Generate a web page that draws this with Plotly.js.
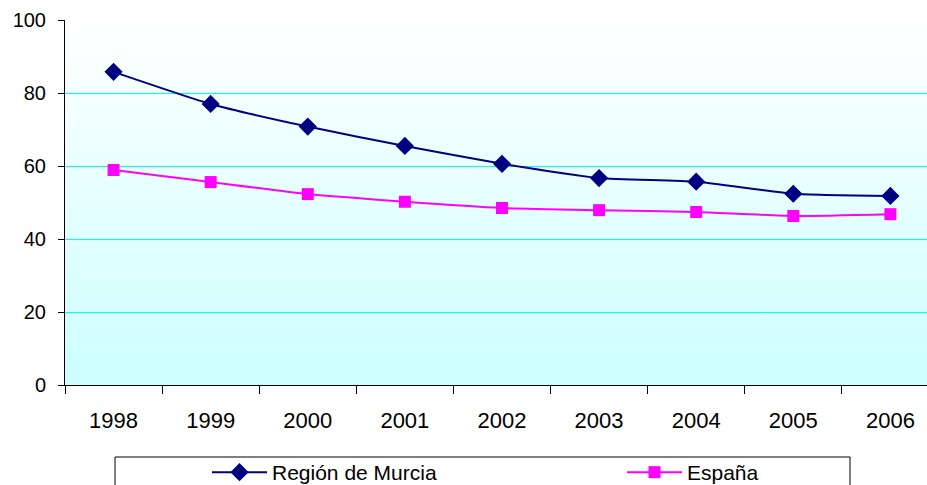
<!DOCTYPE html>
<html><head><meta charset="utf-8">
<script src="https://cdn.plot.ly/plotly-3.0.1.min.js"></script>
<style>html,body{margin:0;padding:0;background:#fff}#c{width:927px;height:485px}</style>
</head><body><div id="c"></div>
<script>
const years = ["1998","1999","2000","2001","2002","2003","2004","2005","2006"];
const murcia = [85.8, 77.0, 70.8, 65.5, 60.6, 56.7, 55.7, 52.4, 51.8];
const espana = [58.9, 55.6, 52.3, 50.2, 48.5, 47.9, 47.4, 46.3, 46.8];
const yTicks = [0, 20, 40, 60, 80, 100];

const idx = years.map((_, i) => i);
const bounds = years.concat(["x"]).map((_, i) => i - 0.5);
const fam = "Liberation Sans, Arial, sans-serif";
const xfont = {family: fam, size: 22, color: "#000"};
const yfont = {family: fam, size: 20, color: "#000"};
const lfont = {family: fam, size: 21, color: "#000"};

const grad = 'data:image/svg+xml;utf8,' + encodeURIComponent(
  '<svg xmlns="http://www.w3.org/2000/svg" width="100" height="100" preserveAspectRatio="none">' +
  '<defs><linearGradient id="g" x1="0" y1="0" x2="0" y2="1"><stop offset="0" stop-color="#ffffff"/><stop offset="1" stop-color="#ccffff"/></linearGradient></defs>' +
  '<rect width="100" height="100" fill="url(#g)"/></svg>');

const traces = [
  {x: idx, y: murcia, name: "Región de Murcia", type: "scatter", mode: "lines+markers",
   line: {color: "#000080", width: 2, shape: "spline", smoothing: 0.5},
   marker: {symbol: "diamond", size: 14, color: "#000080"}, legend: "legend"},
  {x: idx, y: espana, name: "España", type: "scatter", mode: "lines+markers",
   line: {color: "#ff00ff", width: 2, shape: "spline", smoothing: 0.5},
   marker: {symbol: "square", size: 12, color: "#ff00ff"}, legend: "legend2"},
  {x: [0], y: [null], xaxis: "x2", showlegend: false, hoverinfo: "skip", mode: "markers"}
];

const xr = [-0.5, 8.377];
const legY = (485 - 452) / 485;
const layout = {
  width: 927, height: 485,
  margin: {l: 65, r: 0, t: 20, b: 100},
  paper_bgcolor: "#fff", plot_bgcolor: "rgba(0,0,0,0)",
  font: xfont,
  showlegend: true,
  xaxis: {range: xr, tickvals: idx, ticktext: years, ticks: "outside", ticklen: 16,
          tickcolor: "rgba(0,0,0,0)", showgrid: false, zeroline: false,
          showline: true, linecolor: "#000", linewidth: 1, tickfont: xfont, fixedrange: true},
  xaxis2: {range: xr, overlaying: "x", anchor: "y", side: "bottom", tickvals: bounds,
           ticks: "outside", ticklen: 8, tickcolor: "#000", showticklabels: false,
           showgrid: false, zeroline: false, showline: false},
  yaxis: {range: [0, 100], tickvals: yTicks, ticks: "outside", ticklen: 6, tickcolor: "#000",
          ticklabelstandoff: 8,
          showgrid: true, gridcolor: "#00ffff", gridwidth: 1, zeroline: false,
          showline: true, linecolor: "#000", linewidth: 1, tickfont: yfont},
  images: [{source: grad, xref: "paper", yref: "paper", x: 0, y: 1, sizex: 1, sizey: 1,
            sizing: "stretch", layer: "below", xanchor: "left", yanchor: "top"}],
  shapes: [{type: "rect", xref: "paper", yref: "paper", x0: (115-65)/862, x1: (850-65)/862,
            y0: -(457-385)/365, y1: -(490-385)/365, line: {color: "#000", width: 1}, fillcolor: "rgba(0,0,0,0)"}],
  legend: {xref: "container", yref: "container", x: 207/927, y: legY, xanchor: "left", yanchor: "top",
           bgcolor: "rgba(0,0,0,0)", borderwidth: 0, font: lfont, orientation: "h", itemwidth: 55},
  legend2: {xref: "container", yref: "container", x: 622/927, y: legY, xanchor: "left", yanchor: "top",
           bgcolor: "rgba(0,0,0,0)", borderwidth: 0, font: lfont, orientation: "h", itemwidth: 55}
};
Plotly.newPlot("c", traces, layout, {staticPlot: true});
</script></body></html>
